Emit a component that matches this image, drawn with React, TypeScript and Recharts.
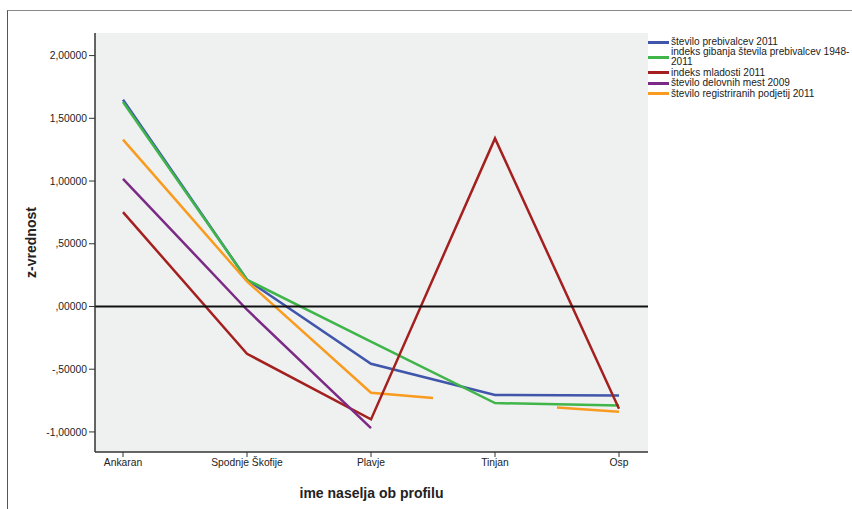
import React from "react";
import {
  LineChart, Line, XAxis, YAxis, CartesianGrid, ReferenceLine, Legend,
} from "recharts";

// settlements along the profile
const categories = ["Ankaran", "Spodnje Škofije", "Plavje", "Tinjan", "Osp"];

// z-values per series
const prebivalci = [1.648, 0.213, -0.457, -0.705, -0.71];
const gibanje = [1.63, 0.213, -0.28, -0.77, -0.79];
const mladost = [0.752, -0.377, -0.9, 1.34, -0.815];
const delovnaMesta = [1.018, -0.026, -0.97, null, null];
// orange series is drawn only in pieces (visible segment ends)
const podjetjaX = [0, 1, 2, 2.5, 3, 3.5, 4];
const podjetjaY = [1.33, 0.2, -0.688, -0.73, null, -0.805, -0.84];

const yTicks = [-1, -0.5, 0, 0.5, 1, 1.5, 2];

const series = [
  { key: "prebivalci", name: "število prebivalcev 2011", color: "#3f56aa" },
  { key: "gibanje", name: "indeks gibanja števila prebivalcev 1948-2011", color: "#3fb54a" },
  { key: "mladost", name: "indeks mladosti 2011", color: "#a3201f" },
  { key: "delovna", name: "število delovnih mest 2009", color: "#7b2b85" },
  { key: "podjetja", name: "število registriranih podjetij 2011", color: "#f99b1e" },
];

const rows = categories.map((name, i) => ({
  x: i,
  name,
  prebivalci: prebivalci[i],
  gibanje: gibanje[i],
  mladost: mladost[i],
  delovna: delovnaMesta[i],
}));
const podjetjaRows = podjetjaX.map((x, i) => ({ x, podjetja: podjetjaY[i] }));

const fmt = (v: number) => {
  const s = Math.abs(v).toFixed(5).replace(".", ",").replace(/^0,/, ",");
  return (v < 0 ? "-" : "") + s;
};

const AXIS = "#333";
const TXT = "#222";
const FS = 10.3;

function LegendBox() {
  return (
    <div style={{ width: 204, fontSize: 10.1, lineHeight: "10px", color: TXT, textAlign: "left" }}>
      {series.map(s => (
        <div key={s.key} style={{ display: "flex", alignItems: "center", marginBottom: 0.4 }}>
          <div style={{ width: 21, height: 3, background: s.color, flex: "none", marginRight: 2 }} />
          <div style={{ width: 181 }}>{s.name}</div>
        </div>
      ))}
    </div>
  );
}

export default function App() {
  return (
    <div style={{
      position: "absolute", left: 0, top: 0, width: 852, height: 509, overflow: "hidden",
      background: "#fff", fontFamily: "'Liberation Sans', Arial, sans-serif",
    }}>
      <div style={{
        position: "absolute", left: 7, top: 10, width: 860, height: 520,
        borderLeft: "1.5px solid #555", borderTop: "1.5px solid #888",
      }} />
      <LineChart width={852} height={509} data={rows}
        margin={{ top: 33, right: 204, left: 35, bottom: 27 }}>
        <CartesianGrid horizontal={false} vertical={false} fill="#eff0f0" />
        <XAxis dataKey="x" type="number" domain={[0, 4]} ticks={[0, 1, 2, 3, 4]}
          tickFormatter={(i: number) => categories[i]} interval={0}
          padding={{ left: 28, right: 29 }} height={30}
          axisLine={{ stroke: AXIS, strokeWidth: 1.5 }} tickLine={{ stroke: AXIS }} tickSize={5}
          tick={{ fontSize: FS, fill: TXT }}
          label={{
            content: ({ viewBox }: any) => (
              <text x={viewBox.x + viewBox.width / 2} y={viewBox.y + 46} textAnchor="middle"
                fontSize={14} fontWeight="bold" fill={TXT}>ime naselja ob profilu</text>
            ),
          }} />
        <XAxis xAxisId="top" orientation="top" type="number" domain={[0, 1]} height={0}
          tick={false} tickLine={false} axisLine={{ stroke: AXIS, strokeWidth: 1.5 }} />
        <YAxis domain={[-1.16, 2.18]} ticks={yTicks} tickFormatter={fmt} width={60}
          axisLine={{ stroke: AXIS, strokeWidth: 1.5 }} tickLine={{ stroke: AXIS }} tickSize={6}
          tick={{ fontSize: FS, fill: TXT }}
          label={{
            content: ({ viewBox }: any) => {
              const cx = viewBox.x - 3;
              const cy = viewBox.y + viewBox.height / 2;
              return (
                <text x={cx} y={cy} transform={`rotate(-90 ${cx} ${cy})`} textAnchor="middle"
                  dominantBaseline="middle" fontSize={14} fontWeight="bold" fill={TXT}>z-vrednost</text>
              );
            },
          }} />
        <YAxis yAxisId="right" orientation="right" domain={[0, 1]} width={0}
          tick={false} tickLine={false} axisLine={{ stroke: AXIS, strokeWidth: 1.5 }} />
        <Line dataKey="prebivalci" name={series[0].name} stroke={series[0].color} strokeWidth={2.5}
          dot={false} activeDot={false} isAnimationActive={false} />
        <Line dataKey="gibanje" name={series[1].name} stroke={series[1].color} strokeWidth={2.5}
          dot={false} activeDot={false} isAnimationActive={false} />
        <Line data={podjetjaRows} dataKey="podjetja" name={series[4].name} stroke={series[4].color}
          strokeWidth={2.5} dot={false} activeDot={false} isAnimationActive={false} />
        <Line dataKey="mladost" name={series[2].name} stroke={series[2].color} strokeWidth={2.5}
          dot={false} activeDot={false} isAnimationActive={false} />
        <Line dataKey="delovna" name={series[3].name} stroke={series[3].color} strokeWidth={2.5}
          dot={false} activeDot={false} isAnimationActive={false} />
        <ReferenceLine y={0} stroke="#111" strokeWidth={2} />
        <Legend content={() => <LegendBox />} layout="horizontal" verticalAlign="middle" align="center"
          wrapperStyle={{ left: 648, top: 37, width: 204 }} />
      </LineChart>
    </div>
  );
}
